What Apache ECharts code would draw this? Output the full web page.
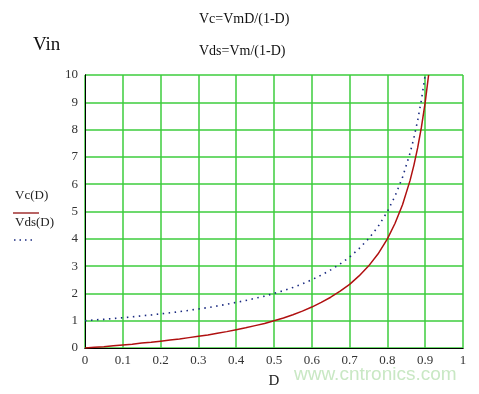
<!DOCTYPE html>
<html><head><meta charset="utf-8">
<script src="https://cdn.jsdelivr.net/npm/echarts@6/dist/echarts.min.js"></script>
<style>html,body{margin:0;padding:0;background:#fff}#c{width:479px;height:394px}</style>
</head><body><div id="c"></div>
<script>
const dutyValues = [0,0.025,0.05,0.075,0.1,0.125,0.15,0.175,0.2,0.225,0.25,0.275,0.3,0.325,0.35,0.375,0.4,0.425,0.45,0.475,0.5,0.525,0.55,0.575,0.6,0.625,0.65,0.675,0.7,0.725,0.75,0.775,0.8,0.82,0.84,0.86,0.87,0.88,0.89,0.9,0.909];
const vcValues = [0,0.03,0.05,0.08,0.11,0.14,0.18,0.21,0.25,0.29,0.33,0.38,0.43,0.48,0.54,0.6,0.67,0.74,0.82,0.9,1.0,1.1,1.22,1.35,1.5,1.67,1.86,2.08,2.33,2.64,3.0,3.44,4.0,4.56,5.25,6.14,6.69,7.33,8.09,9.0,10.0];
const vdsValues = [1,1.03,1.05,1.08,1.11,1.14,1.18,1.21,1.25,1.29,1.33,1.38,1.43,1.48,1.54,1.6,1.67,1.74,1.82,1.9,2.0,2.1,2.22,2.35,2.5,2.67,2.86,3.08,3.33,3.64,4.0,4.44,5.0,5.56,6.25,7.14,7.69,8.33,9.09,10.0,null];
const xTicks = ['0','0.1','0.2','0.3','0.4','0.5','0.6','0.7','0.8','0.9','1'];
const yTicks = ['0','1','2','3','4','5','6','7','8','9','10'];

const serif = '"Liberation Serif","Times New Roman",serif';
const chart = echarts.init(document.getElementById('c'));
const vcData = dutyValues.map((d,i)=>[d,vcValues[i]]);
const vdsData = dutyValues.map((d,i)=>[d,vdsValues[i]]).filter(p=>p[1]!==null);
chart.setOption({
  animation:false,
  backgroundColor:'#fff',
  grid:{left:85,top:75,right:16,bottom:40},
  xAxis:[{type:'value',min:0,max:1,interval:0.1,
    axisLine:{show:true,onZero:false,lineStyle:{color:'#000',width:1}},axisTick:{show:false},
    axisLabel:{color:'#333',fontFamily:serif,fontSize:13,margin:6,formatter:(v,i)=>xTicks[Math.round(v*10)]},
    splitLine:{show:true,lineStyle:{color:'#3ccc3c',width:1.5}},
    name:'D',nameLocation:'middle',nameGap:26,nameTextStyle:{color:'#222',fontFamily:serif,fontSize:15}},
   {type:'value',position:'top',min:0,max:1,axisLine:{show:true,lineStyle:{color:'#000'}},axisTick:{show:false},axisLabel:{show:false},splitLine:{show:false}}],
  yAxis:[{type:'value',min:0,max:10,interval:1,
    axisLine:{show:true,onZero:false,lineStyle:{color:'#000',width:1}},axisTick:{show:false},
    axisLabel:{color:'#333',fontFamily:serif,fontSize:13,margin:7,formatter:v=>yTicks[Math.round(v)]},
    splitLine:{show:true,lineStyle:{color:'#3ccc3c',width:1.5}}},
   {type:'value',position:'right',min:0,max:10,axisLine:{show:true,lineStyle:{color:'#000'}},axisTick:{show:false},axisLabel:{show:false},splitLine:{show:false}}],
  series:[
    {name:'Vc(D)',type:'line',data:vcData,showSymbol:false,clip:true,lineStyle:{color:'#b01010',width:1.5},z:3},
    {name:'Vds(D)',type:'line',data:vdsData,showSymbol:false,clip:true,lineStyle:{color:'#1a2a80',width:1.6,type:[1.5,4.5]},z:4}
  ],
  graphic:[
    {type:'text',left:199,top:12,style:{text:'Vc=VmD/(1-D)',font:'14px '+serif,fill:'#111'}},
    {type:'text',left:199,top:44,style:{text:'Vds=Vm/(1-D)',font:'14px '+serif,fill:'#111'}},
    {type:'text',left:33,top:36,style:{text:'Vin',font:'19px '+serif,fill:'#111'}},
    {type:'text',left:15,top:189,style:{text:'Vc(D)',font:'13px '+serif,fill:'#222'}},
    {type:'line',shape:{x1:13,y1:213,x2:39,y2:213},style:{stroke:'#a03030',lineWidth:1.5}},
    {type:'text',left:15,top:216,style:{text:'Vds(D)',font:'13px '+serif,fill:'#222'}},
    {type:'line',shape:{x1:14,y1:240,x2:36,y2:240},style:{stroke:'#1a2a80',lineWidth:1.3,lineDash:[1.5,4]}},
    {type:'text',left:294,top:365,style:{text:'www.cntronics.com',font:'19px "Liberation Sans",Arial,sans-serif',fill:'#c9e8c4'}}
  ]
});
</script></body></html>
